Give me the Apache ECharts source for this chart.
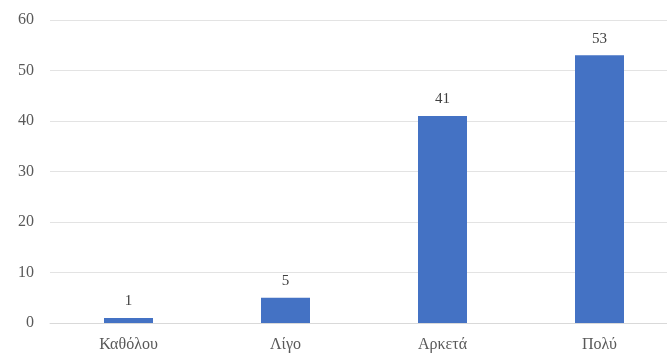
<!DOCTYPE html>
<html>
<head>
<meta charset="utf-8">
<script src="https://cdn.jsdelivr.net/npm/echarts@6/dist/echarts.min.js"></script>
<style>
  html, body { margin: 0; padding: 0; background: #ffffff; }
  #chart { width: 667px; height: 358px; }
</style>
</head>
<body>
<div id="chart"></div>
<script>
// Response categories and counts
const categories = ['Καθόλου', 'Λίγο', 'Αρκετά', 'Πολύ'];
const counts = [1, 5, 41, 53];
const yTicks = { min: 0, max: 60, interval: 10 };

const chart = echarts.init(document.getElementById('chart'));
const fontFamily = '"Liberation Serif", "DejaVu Serif", serif';

chart.setOption({
  animation: false,
  backgroundColor: '#ffffff',
  grid: { left: 50, width: 628, top: 20, bottom: 35, outerBoundsMode: 'none' },
  xAxis: {
    type: 'category',
    data: categories,
    axisTick: { show: false },
    axisLine: { lineStyle: { color: '#d9d9d9', width: 1 } },
    axisLabel: { color: '#595959', fontFamily, fontSize: 16, margin: 14 }
  },
  yAxis: {
    type: 'value',
    min: yTicks.min,
    max: yTicks.max,
    interval: yTicks.interval,
    axisLine: { show: false },
    axisTick: { show: false },
    splitLine: { lineStyle: { color: '#e3e3e3', width: 1 } },
    axisLabel: { color: '#595959', fontFamily, fontSize: 16, margin: 16 }
  },
  series: [{
    type: 'bar',
    data: counts,
    barWidth: 49,
    itemStyle: { color: '#4472C4' },
    label: {
      show: true,
      position: 'top',
      distance: 9,
      color: '#404040',
      fontFamily,
      fontSize: 15
    }
  }]
});
</script>
</body>
</html>
